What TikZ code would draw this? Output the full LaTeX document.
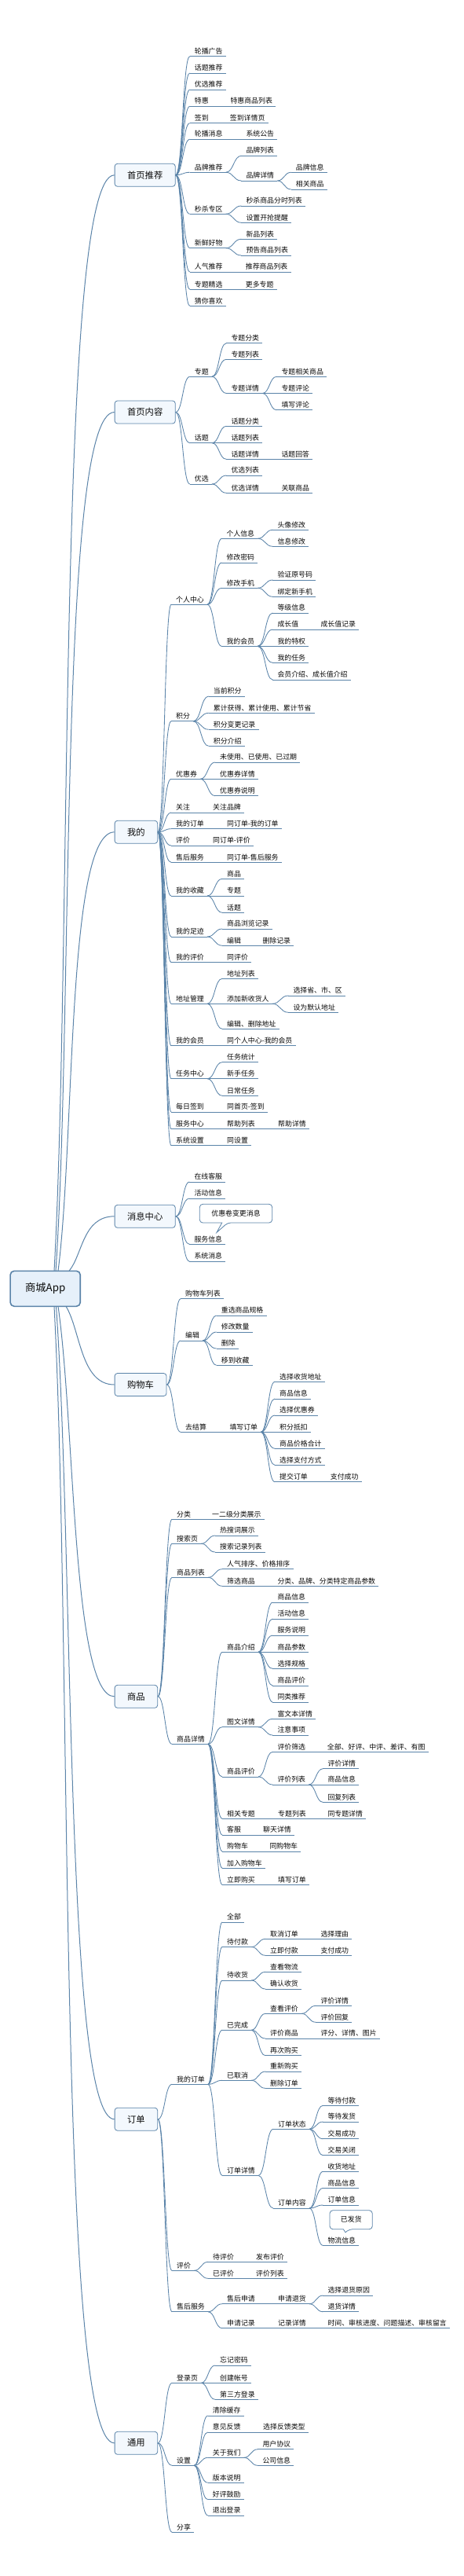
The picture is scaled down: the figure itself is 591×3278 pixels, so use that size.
\documentclass[tikz,border=0pt]{standalone}
\usepackage{fontspec}
\setmainfont{Noto Sans CJK SC}
\usetikzlibrary{calc}
\definecolor{lncol}{HTML}{5B84A9}
\definecolor{boxfill}{HTML}{F3F8FD}
\definecolor{rootfill}{HTML}{E6F0FA}
\definecolor{txtcol}{HTML}{0A0A0A}
\tikzset{
  ln/.style={draw=lncol, line width=0.85pt},
  rootln/.style={draw=lncol, line width=1pt},
  tx/.style={inner xsep=4pt, inner ysep=0pt, font=\fontsize{8.9}{10}\selectfont, text=txtcol},
  mainbox/.style={draw=lncol, fill=boxfill, rounded corners=3.5pt, line width=0.8pt, inner xsep=16pt, inner ysep=0pt, minimum height=29pt, font=\fontsize{11.3}{13}\selectfont, text=txtcol, anchor=west},
  rootbox/.style={draw=lncol, fill=rootfill, rounded corners=5pt, line width=1.6pt, inner xsep=19pt, inner ysep=0pt, minimum height=45pt, minimum width=88.4pt, font=\fontsize{13.3}{15}\selectfont, text=txtcol, anchor=west},
  callout/.style={draw=lncol, fill=white, line width=0.8pt}
}
% id, parent, x of text, y of underline, text
\newcommand\topicnode[5]{%
  \node[tx, anchor=base west] (#1) at (#3-4, -#4+3.3) {#5};
  \coordinate (#1-l) at (#3-6, -#4);
  \coordinate (#1-r) at (#1-l -| #1.east);
  \draw[ln] (#1-l) -- (#1-r);
  \draw[ln] let \p1=(#2-r), \p2=(#1-l) in (\p1) .. controls ({(\x1+\x2)/2},\y1) and ({(\x1+\x2)/2},\y2) .. (\p2);
}
% target box, start coordinate, a, b
\newcommand\rootlink[4]{%
  \draw[rootln] let \p1=(#2), \p2=(#1.west) in (\p1) .. controls ({\x1+#3*(\x2-\x1)}, {\y1+0.3*(\y2-\y1)}) and ({\x1+#4*(\x2-\x1)}, \y2) .. (\p2);
}
\begin{document}
\begin{tikzpicture}[x=1pt,y=1pt]
\useasboundingbox (0,0) rectangle (591,-3278);
\fill[white] (0,0) rectangle (591,-3278);

% ---------- main boxes ----------
\node[mainbox] (A) at (145.7,-222.8) {首页推荐};
\node[mainbox] (B) at (145.7,-524.5) {首页内容};
\node[mainbox] (C) at (145.7,-1058.8) {我的};
\node[mainbox] (D) at (145.7,-1547.8) {消息中心};
\node[mainbox] (E) at (145.7,-1762) {购物车};
\node[mainbox] (F) at (145.7,-2158.8) {商品};
\node[mainbox] (G) at (145.7,-2696.7) {订单};
\node[mainbox] (H) at (145.7,-3108.8) {通用};
\foreach \b in {A,B,C,D,E,F,G,H} {\coordinate (\b-r) at (\b.east);}

% ---------- root links ----------
\coordinate (sA) at (69,-1617.3);
\coordinate (sB) at (71,-1617.3);
\coordinate (sC) at (74,-1617.3);
\coordinate (sD) at (88,-1617.3);
\coordinate (sE) at (84,-1662.3);
\coordinate (sF) at (74,-1662.3);
\coordinate (sG) at (71.5,-1662.3);
\coordinate (sH) at (69,-1662.3);
\rootlink{A}{sA}{0.3}{0.05}
\rootlink{B}{sB}{0.3}{0.05}
\rootlink{C}{sC}{0.3}{0.15}
\rootlink{D}{sD}{0.3}{0.3}
\rootlink{E}{sE}{0.3}{0.3}
\rootlink{F}{sF}{0.3}{0.25}
\rootlink{G}{sG}{0.3}{0.15}
\rootlink{H}{sH}{0.3}{0.05}
\node[rootbox] (R) at (12.3,-1639.8) {商城App};

% ---------- 首页推荐 ----------
\topicnode{a1}{A}{247.7}{71.7}{轮播广告}
\topicnode{a2}{A}{247.7}{93}{话题推荐}
\topicnode{a3}{A}{247.7}{114}{优选推荐}
\topicnode{a4}{A}{247.7}{135.3}{特惠}
\topicnode{a4a}{a4}{293.3}{135.3}{特惠商品列表}
\topicnode{a5}{A}{247.7}{156.7}{签到}
\topicnode{a5a}{a5}{292.7}{156.7}{签到详情页}
\topicnode{a6}{A}{247.7}{177.3}{轮播消息}
\topicnode{a6a}{a6}{313.3}{177.3}{系统公告}
\topicnode{a7}{A}{247.7}{219.3}{品牌推荐}
\topicnode{a7a}{a7}{313.3}{198.3}{品牌列表}
\topicnode{a7b}{a7}{313.3}{230}{品牌详情}
\topicnode{a7b1}{a7b}{376.7}{219.3}{品牌信息}
\topicnode{a7b2}{a7b}{376.7}{241}{相关商品}
\topicnode{a8}{A}{247.7}{272.3}{秒杀专区}
\topicnode{a8a}{a8}{313.3}{262}{秒杀商品分时列表}
\topicnode{a8b}{a8}{313.3}{283.3}{设置开抢提醒}
\topicnode{a9}{A}{247.7}{315.7}{新鲜好物}
\topicnode{a9a}{a9}{313.3}{304.3}{新品列表}
\topicnode{a9b}{a9}{313.3}{325}{预告商品列表}
\topicnode{a10}{A}{247.7}{346}{人气推荐}
\topicnode{a10a}{a10}{312.7}{346}{推荐商品列表}
\topicnode{a11}{A}{247.7}{368.3}{专题精选}
\topicnode{a11a}{a11}{312.7}{368.3}{更多专题}
\topicnode{a12}{A}{247.7}{389.3}{猜你喜欢}

% ---------- 首页内容 ----------
\topicnode{b1}{B}{247.7}{479.3}{专题}
\topicnode{b1a}{b1}{294.3}{436.7}{专题分类}
\topicnode{b1b}{b1}{294.3}{457.3}{专题列表}
\topicnode{b1c}{b1}{294.3}{500.5}{专题详情}
\topicnode{b1c1}{b1c}{358.3}{479.3}{专题相关商品}
\topicnode{b1c2}{b1c}{358.3}{500.5}{专题评论}
\topicnode{b1c3}{b1c}{358.3}{521.7}{填写评论}
\topicnode{b2}{B}{247.7}{563.7}{话题}
\topicnode{b2a}{b2}{294.3}{542.3}{话题分类}
\topicnode{b2b}{b2}{294.3}{563.7}{话题列表}
\topicnode{b2c}{b2}{294.3}{584.3}{话题详情}
\topicnode{b2c1}{b2c}{358.3}{584.3}{话题回答}
\topicnode{b3}{B}{247.7}{616}{优选}
\topicnode{b3a}{b3}{294.3}{605}{优选列表}
\topicnode{b3b}{b3}{294.3}{627.3}{优选详情}
\topicnode{b3b1}{b3b}{358.3}{627.3}{关联商品}

% ---------- 我的 ----------
\topicnode{c1}{C}{224}{769.3}{个人中心}
\topicnode{c1a}{c1}{288.3}{685.3}{个人信息}
\topicnode{c1a1}{c1a}{353.3}{674.3}{头像修改}
\topicnode{c1a2}{c1a}{353.3}{695.3}{信息修改}
\topicnode{c1b}{c1}{288.3}{716}{修改密码}
\topicnode{c1c}{c1}{288.3}{748.3}{修改手机}
\topicnode{c1c1}{c1c}{353.3}{738}{验证原号码}
\topicnode{c1c2}{c1c}{353.3}{759.3}{绑定新手机}
\topicnode{c1d}{c1}{288.3}{822.3}{我的会员}
\topicnode{c1d1}{c1d}{353.3}{780}{等级信息}
\topicnode{c1d2}{c1d}{353.3}{801}{成长值}
\topicnode{c1d2a}{c1d2}{408.3}{801}{成长值记录}
\topicnode{c1d3}{c1d}{353.3}{822.3}{我的特权}
\topicnode{c1d4}{c1d}{353.3}{843.3}{我的任务}
\topicnode{c1d5}{c1d}{353.3}{865}{会员介绍、成长值介绍}
\topicnode{c2}{C}{224}{917.7}{积分}
\topicnode{c2a}{c2}{271.7}{886}{当前积分}
\topicnode{c2b}{c2}{271.7}{907.3}{累计获得、累计使用、累计节省}
\topicnode{c2c}{c2}{271.7}{928.3}{积分变更记录}
\topicnode{c2d}{c2}{271.7}{949.3}{积分介绍}
\topicnode{c3}{C}{224}{991.3}{优惠券}
\topicnode{c3a}{c3}{280}{970}{未使用、已使用、已过期}
\topicnode{c3b}{c3}{280}{991.3}{优惠券详情}
\topicnode{c3c}{c3}{280}{1012.7}{优惠券说明}
\topicnode{c4}{C}{224}{1034}{关注}
\topicnode{c4a}{c4}{271}{1034}{关注品牌}
\topicnode{c5}{C}{224}{1054.7}{我的订单}
\topicnode{c5a}{c5}{289}{1054.7}{同订单-我的订单}
\topicnode{c6}{C}{224}{1076}{评价}
\topicnode{c6a}{c6}{271}{1076}{同订单-评价}
\topicnode{c7}{C}{224}{1097.3}{售后服务}
\topicnode{c7a}{c7}{289}{1097.3}{同订单-售后服务}
\topicnode{c8}{C}{224}{1140}{我的收藏}
\topicnode{c8a}{c8}{289}{1118.3}{商品}
\topicnode{c8b}{c8}{289}{1140}{专题}
\topicnode{c8c}{c8}{289}{1161.3}{话题}
\topicnode{c9}{C}{224}{1192}{我的足迹}
\topicnode{c9a}{c9}{289}{1182}{商品浏览记录}
\topicnode{c9b}{c9}{289}{1203.3}{编辑}
\topicnode{c9b1}{c9b}{334.3}{1203.3}{删除记录}
\topicnode{c10}{C}{224}{1224.7}{我的评价}
\topicnode{c10a}{c10}{289}{1224.7}{同评价}
\topicnode{c11}{C}{224}{1277.3}{地址管理}
\topicnode{c11a}{c11}{289}{1245.3}{地址列表}
\topicnode{c11b}{c11}{289}{1277.3}{添加新收货人}
\topicnode{c11b1}{c11b}{373.3}{1267}{选择省、市、区}
\topicnode{c11b2}{c11b}{373.3}{1288.3}{设为默认地址}
\topicnode{c11c}{c11}{289}{1309.3}{编辑、删除地址}
\topicnode{c12}{C}{224}{1330.7}{我的会员}
\topicnode{c12a}{c12}{289}{1330.7}{同个人中心-我的会员}
\topicnode{c13}{C}{224}{1372.7}{任务中心}
\topicnode{c13a}{c13}{289}{1351.7}{任务统计}
\topicnode{c13b}{c13}{289}{1372.7}{新手任务}
\topicnode{c13c}{c13}{289}{1394.3}{日常任务}
\topicnode{c14}{C}{224}{1415}{每日签到}
\topicnode{c14a}{c14}{289}{1415}{同首页-签到}
\topicnode{c15}{C}{224}{1436.7}{服务中心}
\topicnode{c15a}{c15}{289}{1436.7}{帮助列表}
\topicnode{c15a1}{c15a}{354}{1436.7}{帮助详情}
\topicnode{c16}{C}{224}{1457.7}{系统设置}
\topicnode{c16a}{c16}{289}{1457.7}{同设置}

% ---------- 消息中心 ----------
\topicnode{d1}{D}{247.3}{1504}{在线客服}
\topicnode{d2}{D}{247.3}{1525}{活动信息}
\topicnode{d3}{D}{247.3}{1583.3}{服务信息}
\topicnode{d4}{D}{247.3}{1605}{系统消息}
\draw[callout] [rounded corners=4pt] (254.3,-1544) |- (346.7,-1532.3) |- (290,-1556) [sharp corners] -- (276,-1568.3) -- (282.7,-1556) [rounded corners=4pt] -| (254.3,-1544) -- cycle;
\node[tx, inner xsep=0pt, anchor=base] (dcall) at (300.5,-1547.3) {优惠卷变更消息};

% ---------- 购物车 ----------
\topicnode{e1}{E}{236}{1652.7}{购物车列表}
\topicnode{e2}{E}{236}{1706}{编辑}
\topicnode{e2a}{e2}{281.7}{1674}{重选商品规格}
\topicnode{e2b}{e2}{281.7}{1695}{修改数量}
\topicnode{e2c}{e2}{281.7}{1716}{删除}
\topicnode{e2d}{e2}{281.7}{1737.3}{移到收藏}
\topicnode{e3}{E}{236}{1822.3}{去结算}
\topicnode{e3a}{e3}{292.3}{1822.3}{填写订单}
\topicnode{e3a1}{e3a}{356}{1758.3}{选择收货地址}
\topicnode{e3a2}{e3a}{356}{1780}{商品信息}
\topicnode{e3a3}{e3a}{356}{1801}{选择优惠券}
\topicnode{e3a4}{e3a}{356}{1822.3}{积分抵扣}
\topicnode{e3a5}{e3a}{356}{1843.3}{商品价格合计}
\topicnode{e3a6}{e3a}{356}{1864.3}{选择支付方式}
\topicnode{e3a7}{e3a}{356}{1885.7}{提交订单}
\topicnode{e3a7a}{e3a7}{420.7}{1885.7}{支付成功}

% ---------- 商品 ----------
\topicnode{f1}{F}{225}{1933.3}{分类}
\topicnode{f1a}{f1}{270}{1933.3}{一二级分类展示}
\topicnode{f2}{F}{225}{1964.3}{搜索页}
\topicnode{f2a}{f2}{280}{1954}{热搜词展示}
\topicnode{f2b}{f2}{280}{1975}{搜索记录列表}
\topicnode{f3}{F}{225}{2007.3}{商品列表}
\topicnode{f3a}{f3}{289}{1996.7}{人气排序、价格排序}
\topicnode{f3b}{f3}{289}{2018.3}{筛选商品}
\topicnode{f3b1}{f3b}{353.3}{2018.3}{分类、品牌、分类特定商品参数}
\topicnode{f4}{F}{225}{2219.3}{商品详情}
\topicnode{f4a}{f4}{289}{2102.3}{商品介绍}
\topicnode{f4a1}{f4a}{353.3}{2039}{商品信息}
\topicnode{f4a2}{f4a}{353.3}{2060}{活动信息}
\topicnode{f4a3}{f4a}{353.3}{2081}{服务说明}
\topicnode{f4a4}{f4a}{353.3}{2102.3}{商品参数}
\topicnode{f4a5}{f4a}{353.3}{2123.3}{选择规格}
\topicnode{f4a6}{f4a}{353.3}{2145}{商品评价}
\topicnode{f4a7}{f4a}{353.3}{2166}{同类推荐}
\topicnode{f4b}{f4}{289}{2197.7}{图文详情}
\topicnode{f4b1}{f4b}{353.3}{2187.3}{富文本详情}
\topicnode{f4b2}{f4b}{353.3}{2208}{注意事项}
\topicnode{f4c}{f4}{289}{2261}{商品评价}
\topicnode{f4c1}{f4c}{353.3}{2229.3}{评价筛选}
\topicnode{f4c1a}{f4c1}{416.7}{2229.3}{全部、好评、中评、差评、有图}
\topicnode{f4c2}{f4c}{353.3}{2271}{评价列表}
\topicnode{f4c2a}{f4c2}{417.3}{2250.7}{评价详情}
\topicnode{f4c2b}{f4c2}{417.3}{2271}{商品信息}
\topicnode{f4c2c}{f4c2}{417.3}{2293.3}{回复列表}
\topicnode{f4d}{f4}{289}{2314.3}{相关专题}
\topicnode{f4d1}{f4d}{354}{2314.3}{专题列表}
\topicnode{f4d1a}{f4d1}{417.3}{2314.3}{同专题详情}
\topicnode{f4e}{f4}{289}{2335}{客服}
\topicnode{f4e1}{f4e}{335}{2335}{聊天详情}
\topicnode{f4f}{f4}{289}{2356}{购物车}
\topicnode{f4f1}{f4f}{343.3}{2356}{同购物车}
\topicnode{f4g}{f4}{289}{2377.3}{加入购物车}
\topicnode{f4h}{f4}{289}{2398.3}{立即购买}
\topicnode{f4h1}{f4h}{354}{2398.3}{填写订单}

% ---------- 订单 ----------
\topicnode{g1}{G}{225}{2652.3}{我的订单}
\topicnode{g1a}{g1}{289}{2446}{全部}
\topicnode{g1b}{g1}{289}{2477.5}{待付款}
\topicnode{g1b1}{g1b}{344}{2467.3}{取消订单}
\topicnode{g1b1a}{g1b1}{408.3}{2467.3}{选择理由}
\topicnode{g1b2}{g1b}{344}{2488.3}{立即付款}
\topicnode{g1b2a}{g1b2}{408.3}{2488.3}{支付成功}
\topicnode{g1c}{g1}{289}{2520}{待收货}
\topicnode{g1c1}{g1c}{344}{2509.3}{查看物流}
\topicnode{g1c2}{g1c}{344}{2531}{确认收货}
\topicnode{g1d}{g1}{289}{2583.3}{已完成}
\topicnode{g1d1}{g1d}{344}{2562.3}{查看评价}
\topicnode{g1d1a}{g1d1}{408.3}{2552.3}{评价详情}
\topicnode{g1d1b}{g1d1}{408.3}{2573.3}{评价回复}
\topicnode{g1d2}{g1d}{344}{2594}{评价商品}
\topicnode{g1d2a}{g1d2}{408.3}{2594}{评分、详情、图片}
\topicnode{g1d3}{g1d}{344}{2615.7}{再次购买}
\topicnode{g1e}{g1}{289}{2647.3}{已取消}
\topicnode{g1e1}{g1e}{344}{2636}{重新购买}
\topicnode{g1e2}{g1e}{344}{2657.3}{删除订单}
\topicnode{g1f}{g1}{289}{2768.3}{订单详情}
\topicnode{g1f1}{g1f}{354}{2709.3}{订单状态}
\topicnode{g1f1a}{g1f1}{417.3}{2679.3}{等待付款}
\topicnode{g1f1b}{g1f1}{417.3}{2700}{等待发货}
\topicnode{g1f1c}{g1f1}{417.3}{2721.7}{交易成功}
\topicnode{g1f1d}{g1f1}{417.3}{2742.7}{交易关闭}
\topicnode{g1f2}{g1f}{354}{2810}{订单内容}
\topicnode{g1f2a}{g1f2}{417.3}{2763.3}{收货地址}
\topicnode{g1f2b}{g1f2}{417.3}{2784.3}{商品信息}
\topicnode{g1f2c}{g1f2}{417.3}{2806}{订单信息}
\topicnode{g1f2d}{g1f2}{417.3}{2857.3}{物流信息}
\draw[callout] [rounded corners=4pt] (420,-2824) |- (474.3,-2812.7) |- (445,-2836.7) [sharp corners] -- (440,-2840.7) -- (437.3,-2836.7) [rounded corners=4pt] -| (420,-2824) -- cycle;
\node[tx, inner xsep=0pt, anchor=base] (gcall) at (447.3,-2827.3) {已发货};
\topicnode{g2}{G}{225}{2889.3}{评价}
\topicnode{g2a}{g2}{271}{2878.3}{待评价}
\topicnode{g2a1}{g2a}{326}{2878.3}{发布评价}
\topicnode{g2b}{g2}{271}{2899.3}{已评价}
\topicnode{g2b1}{g2b}{326}{2899.3}{评价列表}
\topicnode{g3}{G}{225}{2941.7}{售后服务}
\topicnode{g3a}{g3}{289}{2931.7}{售后申请}
\topicnode{g3a1}{g3a}{354}{2931.7}{申请退货}
\topicnode{g3a1a}{g3a1}{417.3}{2921}{选择退货原因}
\topicnode{g3a1b}{g3a1}{417.3}{2941.7}{退货详情}
\topicnode{g3b}{g3}{289}{2962.7}{申请记录}
\topicnode{g3b1}{g3b}{354}{2962.7}{记录详情}
\topicnode{g3b1a}{g3b1}{417.3}{2962.7}{时间、审核进度、问题描述、审核留言}

% ---------- 通用 ----------
\topicnode{h1}{H}{225}{3032.3}{登录页}
\topicnode{h1a}{h1}{280}{3010}{忘记密码}
\topicnode{h1b}{h1}{280}{3032.3}{创建帐号}
\topicnode{h1c}{h1}{280}{3053.3}{第三方登录}
\topicnode{h2}{H}{225}{3137.3}{设置}
\topicnode{h2a}{h2}{270.7}{3074}{清除缓存}
\topicnode{h2b}{h2}{270.7}{3095}{意见反馈}
\topicnode{h2b1}{h2b}{335}{3095}{选择反馈类型}
\topicnode{h2c}{h2}{270.7}{3127.3}{关于我们}
\topicnode{h2c1}{h2c}{334.3}{3116.7}{用户协议}
\topicnode{h2c2}{h2c}{334.3}{3137.3}{公司信息}
\topicnode{h2d}{h2}{270.7}{3159.3}{版本说明}
\topicnode{h2e}{h2}{270.7}{3180.7}{好评鼓励}
\topicnode{h2f}{h2}{270.7}{3201}{退出登录}
\topicnode{h3}{H}{225}{3222.3}{分享}
\end{tikzpicture}
\end{document}
